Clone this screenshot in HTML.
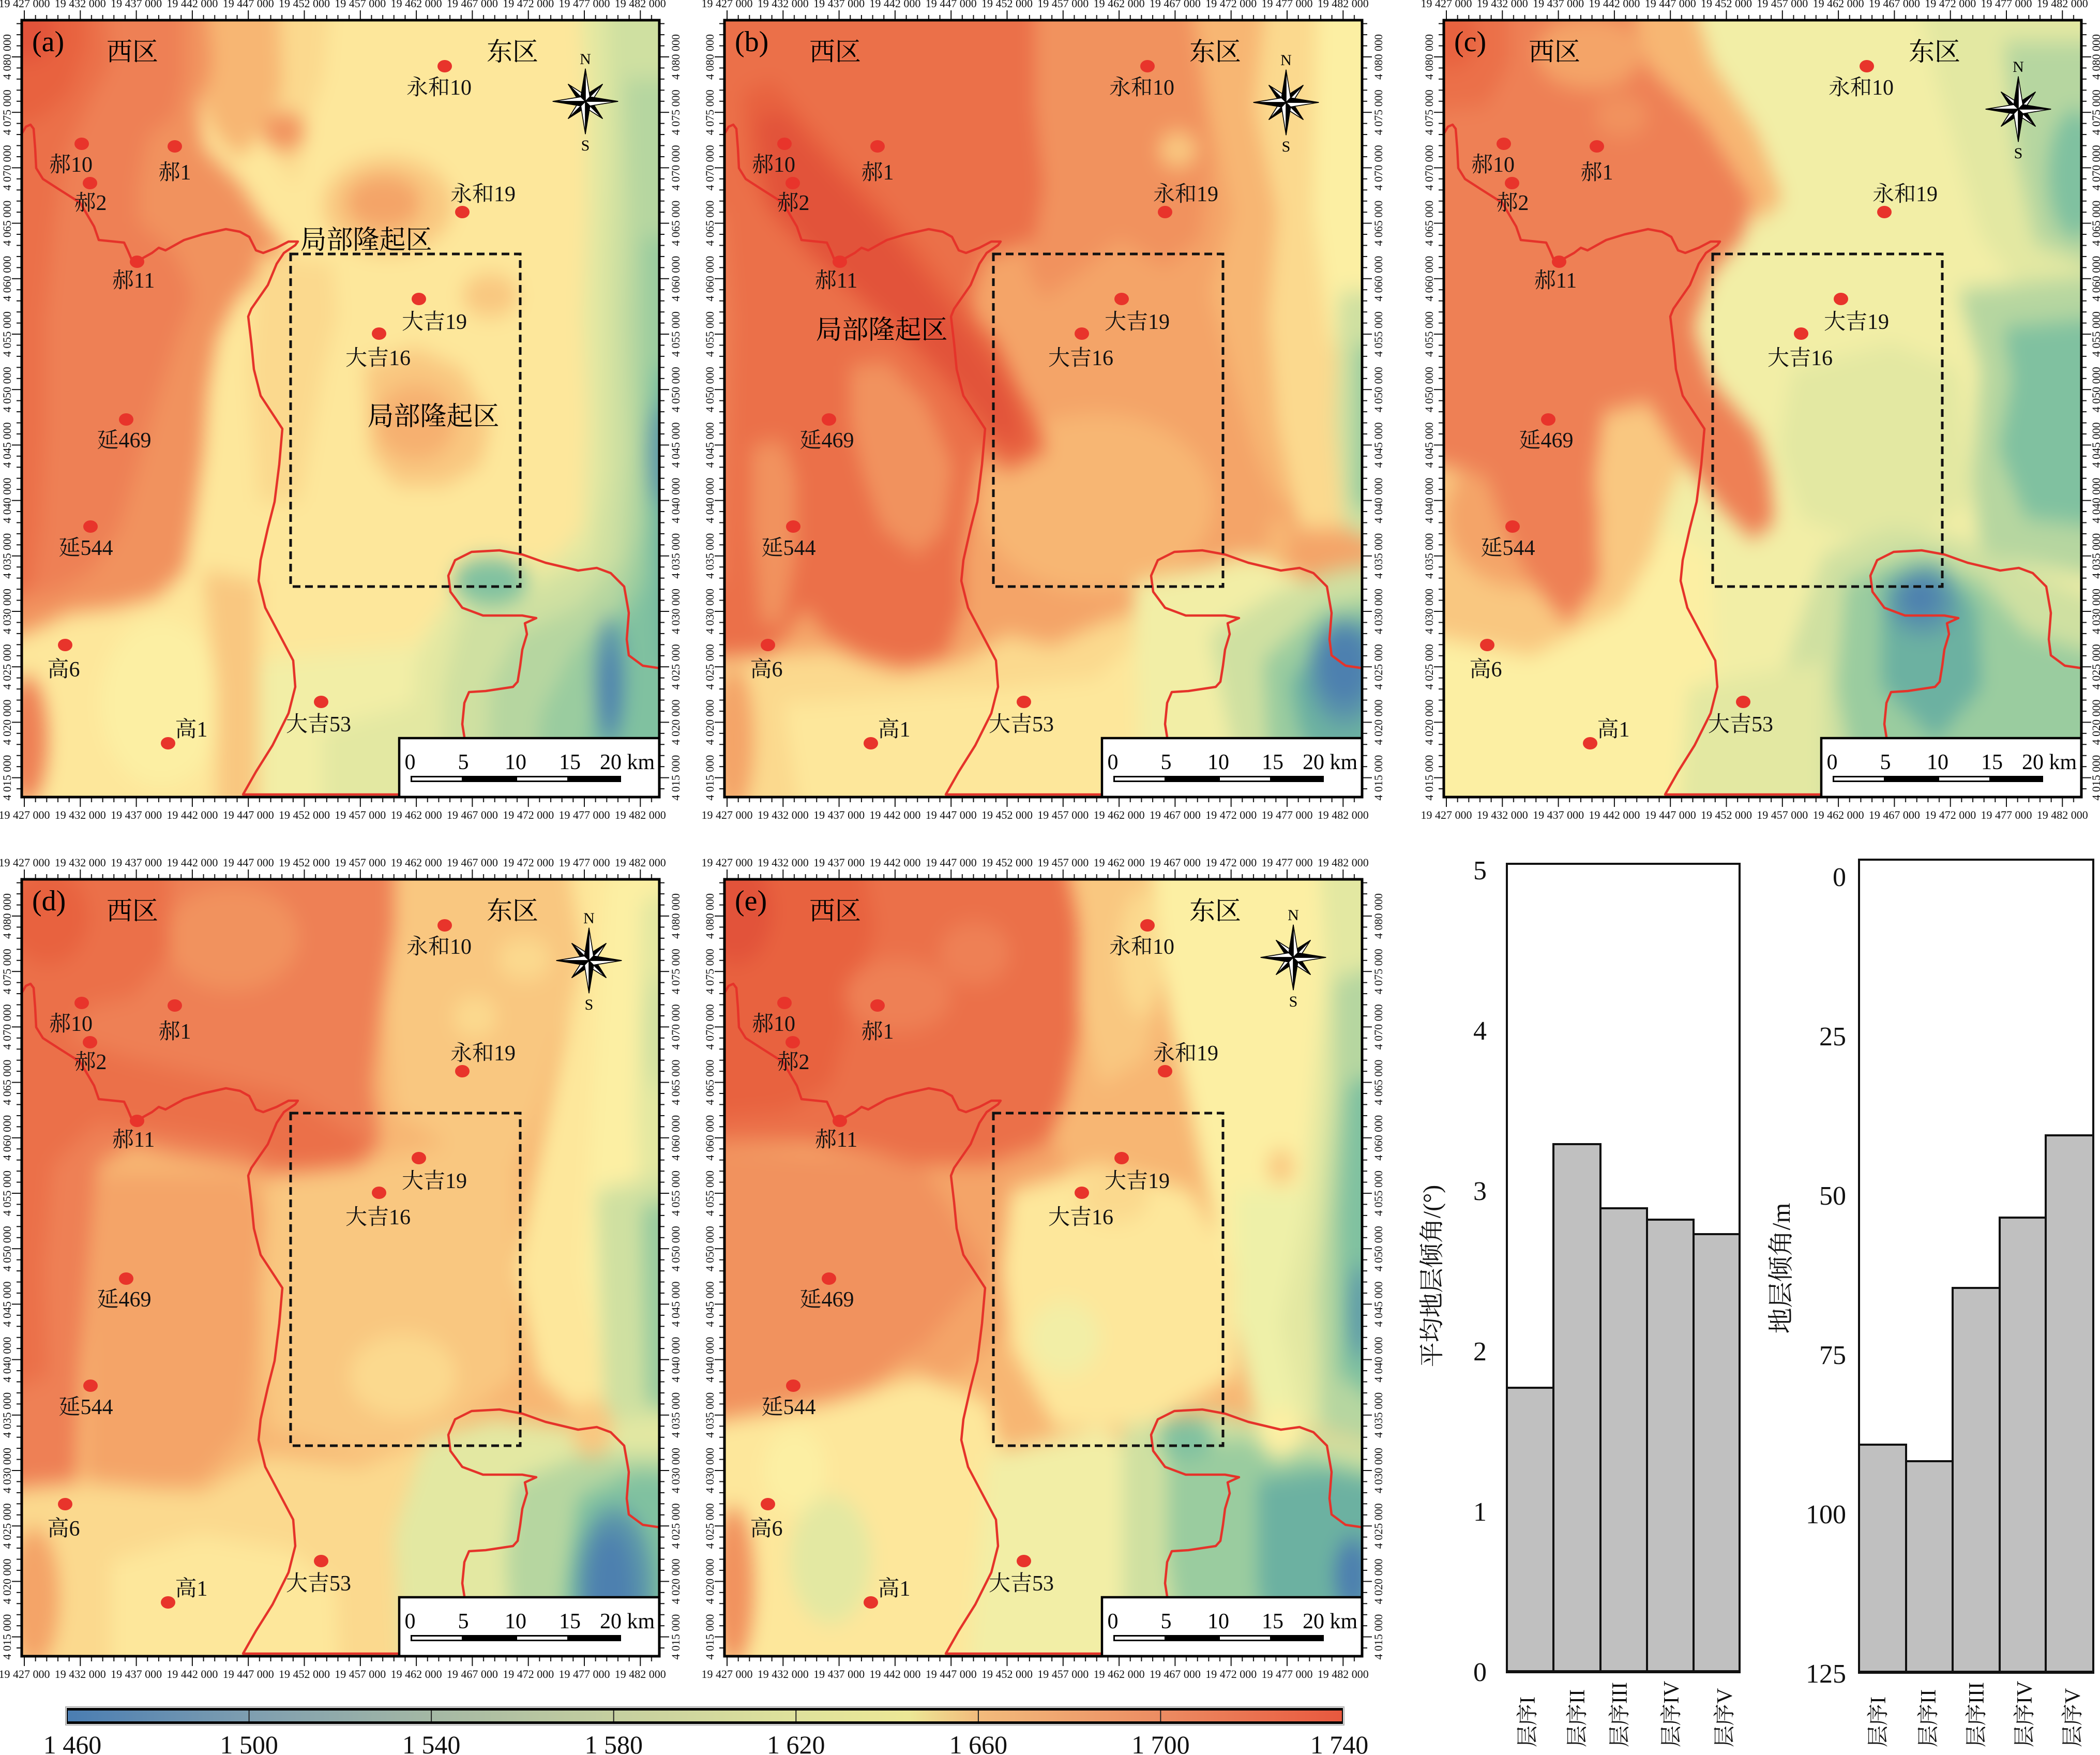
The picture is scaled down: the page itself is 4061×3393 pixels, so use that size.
<!DOCTYPE html>
<html><head><meta charset="utf-8"><style>
html,body{margin:0;padding:0;background:#fff;}
svg{display:block;}
</style></head><body>
<svg xmlns="http://www.w3.org/2000/svg" width="4061" height="3393" viewBox="0 0 4061 3393" font-family="'Liberation Serif','Noto Serif CJK SC',serif">
<defs>
<filter id="bl" x="-20%" y="-20%" width="140%" height="140%" color-interpolation-filters="sRGB"><feGaussianBlur stdDeviation="20"/></filter>
<pattern id="tT" patternUnits="userSpaceOnUse" x="6" y="-17" width="108.3" height="17"><path d="M1,0V17M22.66,9V17M44.32,9V17M65.98,9V17M87.64,9V17" stroke="#111" stroke-width="2"/></pattern>
<pattern id="tB" patternUnits="userSpaceOnUse" x="6" y="1506" width="108.3" height="17"><path d="M1,0V17M22.66,0V8M44.32,0V8M65.98,0V8M87.64,0V8" stroke="#111" stroke-width="2"/></pattern>
<pattern id="tL" patternUnits="userSpaceOnUse" x="-17" y="72" width="17" height="107.2"><path d="M0,1H17M9,22.44H17M9,43.88H17M9,65.32H17M9,86.76H17" stroke="#111" stroke-width="2"/></pattern>
<pattern id="tR" patternUnits="userSpaceOnUse" x="1237" y="72" width="17" height="107.2"><path d="M0,1H17M0,22.44H8M0,43.88H8M0,65.32H8M0,86.76H8" stroke="#111" stroke-width="2"/></pattern>
<linearGradient id="cb" x1="0" x2="1" y1="0" y2="0">
<stop offset="0" stop-color="#4a7db2"/><stop offset="0.143" stop-color="#7e9eb0"/><stop offset="0.286" stop-color="#a4b8a4"/><stop offset="0.43" stop-color="#c5cf9f"/><stop offset="0.571" stop-color="#dfe29c"/><stop offset="0.66" stop-color="#ece896"/><stop offset="0.714" stop-color="#f2bb7c"/><stop offset="0.857" stop-color="#ec8c62"/><stop offset="1" stop-color="#e8583e"/>
</linearGradient>
<g id="geo">
<polyline fill="none" stroke="#e5332a" stroke-width="4.5" stroke-linejoin="round" points="0,225 10,208 19,204 25,212 28,250 30,288 43,309 74,329 115,355 142,401 151,427 200,432 207,447 218,473 236,462 254,452 267,442 280,447 289,442 316,427 352,416 397,406 424,411 442,421 455,447 469,452 495,442 518,430 536,430 531,437 509,452 495,473 478,514 446,560 440,575 446,626 451,677 464,728 491,769 506,792 500,861 491,933 478,984 464,1046 460,1086 473,1138 500,1189 527,1240 531,1291 518,1342 487,1404 455,1455 430,1499 730,1499"/>
<polyline fill="none" stroke="#e5332a" stroke-width="4.5" stroke-linejoin="round" points="858,1388 854,1363 858,1322 867,1301 899,1299 952,1291 961,1281 966,1250 970,1219 979,1189 975,1168 997,1158 970,1153 926,1153 894,1153 854,1138 831,1107 827,1076 840,1046 872,1030 926,1027 970,1035 1015,1051 1078,1066 1114,1061 1141,1071 1167,1097 1176,1148 1172,1199 1176,1230 1203,1250 1237,1255"/>
<rect x="522" y="454" width="444" height="643" fill="none" stroke="#111" stroke-width="5" stroke-dasharray="15 9"/>
<g fill="#e8342b">
<ellipse cx="820" cy="91" rx="14" ry="12"/><ellipse cx="118" cy="241" rx="14" ry="12"/><ellipse cx="298" cy="246" rx="14" ry="12"/><ellipse cx="134" cy="317" rx="14" ry="12"/><ellipse cx="854" cy="373" rx="14" ry="12"/><ellipse cx="225" cy="469" rx="14" ry="12"/><ellipse cx="770" cy="541" rx="14" ry="12"/><ellipse cx="693" cy="608" rx="14" ry="12"/><ellipse cx="204" cy="774" rx="14" ry="12"/><ellipse cx="135" cy="981" rx="14" ry="12"/><ellipse cx="86" cy="1210" rx="14" ry="12"/><ellipse cx="285" cy="1400" rx="14" ry="12"/><ellipse cx="581" cy="1320" rx="14" ry="12"/>
</g>
<rect x="732" y="1390" width="503" height="114" fill="#fff" stroke="#000" stroke-width="4.5"/>
<rect x="754" y="1463" width="407" height="12" fill="#000"/>
<rect x="757" y="1466" width="96" height="6" fill="#fff"/>
<rect x="960" y="1466" width="97" height="6" fill="#fff"/>
</g>
<g id="rose" stroke="#000" stroke-width="1.5" stroke-linejoin="round" transform="scale(1.1)">
<path d="M30,-30L0,-11L0,0Z" fill="#000"/><path d="M30,-30L11,0L0,0Z" fill="#fff"/>
<path d="M30,30L11,0L0,0Z" fill="#000"/><path d="M30,30L0,11L0,0Z" fill="#fff"/>
<path d="M-30,30L0,11L0,0Z" fill="#000"/><path d="M-30,30L-11,0L0,0Z" fill="#fff"/>
<path d="M-30,-30L-11,0L0,0Z" fill="#000"/><path d="M-30,-30L0,-11L0,0Z" fill="#fff"/>
<path d="M0,-57L-8,-8L0,0Z" fill="#000"/><path d="M0,-57L8,-8L0,0Z" fill="#fff"/>
<path d="M57,0L8,-8L0,0Z" fill="#000"/><path d="M57,0L8,8L0,0Z" fill="#fff"/>
<path d="M0,57L8,8L0,0Z" fill="#000"/><path d="M0,57L-8,8L0,0Z" fill="#fff"/>
<path d="M-57,0L-8,8L0,0Z" fill="#000"/><path d="M-57,0L-8,-8L0,0Z" fill="#fff"/>
</g>
</defs>

<rect x="0" y="0" width="4061" height="3393" fill="#fff"/>

<!-- ================= PANEL A ================= -->
<g transform="translate(40,37)">
<svg x="0" y="0" width="1237" height="1506" viewBox="47 38 1380 1472" preserveAspectRatio="none">
<g filter="url(#bl)">
<rect x="-100" y="-100" width="1700" height="1800" fill="#fde79b"/>
<path fill="#f1925e" d="M-50,-50 L470,-50 470,130 430,200 440,280 520,350 570,420 620,470 560,520 510,570 470,640 450,740 440,860 420,980 400,1080 340,1130 250,1150 150,1160 80,1190 -50,1230Z"/>
<path fill="#ee8055" d="M-50,-50 L400,-50 400,150 380,220 320,260 300,350 300,420 380,480 420,560 380,650 340,760 300,880 260,1000 200,1080 120,1120 -50,1140Z"/>
<path fill="#eb7049" d="M-50,-50 L220,-50 240,120 180,220 140,300 120,420 100,600 100,800 90,1000 70,1120 -50,1150Z"/>
<path fill="#e8623f" d="M-50,-50 L170,-50 190,80 150,180 80,230 -50,240Z"/>
<ellipse cx="60" cy="60" rx="60" ry="55" fill="#e2533a"/>
<path fill="#f7b673" d="M440,-50 L650,-50 640,120 600,200 560,260 520,300 470,260 440,200 460,120Z"/>
<path fill="#fbd98e" d="M600,-50 L720,-50 700,150 660,250 640,350 600,300 610,150Z"/>
<ellipse cx="615" cy="250" rx="45" ry="35" fill="#f1925e"/>
<ellipse cx="840" cy="390" rx="140" ry="90" fill="#f9c780"/>
<ellipse cx="830" cy="385" rx="80" ry="50" fill="#f4a468"/>
<path fill="#f9c780" d="M790,690 L900,660 1000,700 1060,800 1040,880 960,920 860,920 800,860Z"/>
<ellipse cx="900" cy="800" rx="85" ry="70" fill="#f6b070"/>
<ellipse cx="1060" cy="560" rx="60" ry="40" fill="#f9c780"/>
<path fill="#fbd98e" d="M560,480 L720,500 730,600 700,700 680,800 650,950 560,950 540,700Z"/>
<ellipse cx="350" cy="1330" rx="130" ry="160" fill="#fcefa3"/>
<ellipse cx="60" cy="1400" rx="45" ry="120" fill="#ee8055"/>
<path fill="#f9c780" d="M440,1080 L560,1100 560,1600 470,1600 470,1300Z"/>
<path fill="#f2eea6" d="M560,1250 L900,1220 960,1150 960,1600 560,1600Z"/>
<path fill="#e3e8a2" d="M700,1380 L900,1330 960,1300 960,1600 700,1600Z"/>
<path fill="#e3e8a2" d="M1250,-50 L1600,-50 1600,1600 880,1600 900,1250 980,1120 1100,1080 1200,1060 1260,1000 1270,800 1260,600 1270,400 1270,200Z"/>
<path fill="#cfe0a1" d="M1310,-50 L1600,-50 1600,1600 950,1600 960,1300 1000,1160 1150,1120 1280,1060 1310,900 1310,700 1310,500 1320,300Z"/>
<path fill="#b6d6a0" d="M1350,150 L1600,150 1600,1600 1050,1600 1060,1300 1120,1200 1250,1150 1340,1060 1360,850 1350,600 1360,400Z"/>
<path fill="#9acc9f" d="M1390,450 L1600,450 1600,1600 1150,1600 1170,1350 1240,1230 1340,1150 1390,1000 1390,700Z"/>
<path fill="#80c1a0" d="M1410,700 L1600,700 1600,1600 1260,1600 1270,1400 1330,1200 1400,1100Z"/>
<path fill="#6cb1a1" d="M1440,700 L1600,700 1600,1300 1430,1250 1420,1000Z"/>
<ellipse cx="1060" cy="1100" rx="80" ry="45" fill="#80c1a0"/>
<ellipse cx="1318" cy="1290" rx="32" ry="120" fill="#5b95aa"/>
<ellipse cx="1318" cy="1300" rx="16" ry="75" fill="#4d80af"/>
<ellipse cx="1425" cy="860" rx="22" ry="95" fill="#5b95aa"/>
</g>
</svg>
<use href="#geo"/>
<use href="#rose" transform="translate(1092,159)"/>
<g font-size="30" text-anchor="middle"><text x="1092" y="87">N</text><text x="1092" y="254">S</text></g>
<text x="22" y="62" font-size="56">(a)</text>
<g font-size="50" text-anchor="middle"><text x="216" y="80">西区</text><text x="951" y="80">东区</text><text x="668" y="444" font-size="51">局部隆起区</text><text x="798" y="785" font-size="51">局部隆起区</text></g>
<g font-size="42" text-anchor="middle" fill="#111">
<text x="809" y="146">永和10</text><text x="97" y="295">郝10</text><text x="298" y="310">郝1</text><text x="135" y="369">郝2</text><text x="894" y="352">永和19</text><text x="218" y="519">郝11</text><text x="800" y="599">大吉19</text><text x="691" y="669">大吉16</text><text x="200" y="828">延469</text><text x="126" y="1036">延544</text><text x="83" y="1271">高6</text><text x="330" y="1387">高1</text><text x="576" y="1377">大吉53</text>
</g>
<g font-size="42" text-anchor="middle"><text x="753" y="1450">0</text><text x="856" y="1450">5</text><text x="957" y="1450">10</text><text x="1062" y="1450">15</text><text x="1120" y="1450" text-anchor="start">20 km</text></g>
<rect x="0" y="-17" width="1237" height="17" fill="url(#tT)"/><rect x="0" y="1506" width="1237" height="17" fill="url(#tB)"/><rect x="-17" y="0" width="17" height="1506" fill="url(#tL)"/><rect x="1237" y="0" width="17" height="1506" fill="url(#tR)"/>
<g font-size="22" text-anchor="middle" fill="#111">
<text y="-23"><tspan x="7">19 427 000</tspan><tspan x="115.3">19 432 000</tspan><tspan x="223.6">19 437 000</tspan><tspan x="331.9">19 442 000</tspan><tspan x="440.2">19 447 000</tspan><tspan x="548.5">19 452 000</tspan><tspan x="656.8">19 457 000</tspan><tspan x="765.1">19 462 000</tspan><tspan x="873.4">19 467 000</tspan><tspan x="981.7">19 472 000</tspan><tspan x="1090">19 477 000</tspan><tspan x="1198.3">19 482 000</tspan></text>
<text y="1546"><tspan x="7">19 427 000</tspan><tspan x="115.3">19 432 000</tspan><tspan x="223.6">19 437 000</tspan><tspan x="331.9">19 442 000</tspan><tspan x="440.2">19 447 000</tspan><tspan x="548.5">19 452 000</tspan><tspan x="656.8">19 457 000</tspan><tspan x="765.1">19 462 000</tspan><tspan x="873.4">19 467 000</tspan><tspan x="981.7">19 472 000</tspan><tspan x="1090">19 477 000</tspan><tspan x="1198.3">19 482 000</tspan></text>
<text transform="rotate(-90)" y="-19"><tspan x="-73">4 080 000</tspan><tspan x="-180.2">4 075 000</tspan><tspan x="-287.4">4 070 000</tspan><tspan x="-394.6">4 065 000</tspan><tspan x="-501.8">4 060 000</tspan><tspan x="-609">4 055 000</tspan><tspan x="-716.2">4 050 000</tspan><tspan x="-823.4">4 045 000</tspan><tspan x="-930.6">4 040 000</tspan><tspan x="-1037.8">4 035 000</tspan><tspan x="-1145">4 030 000</tspan><tspan x="-1252.2">4 025 000</tspan><tspan x="-1359.4">4 020 000</tspan><tspan x="-1466.6">4 015 000</tspan></text>
<text transform="rotate(-90)" y="1274"><tspan x="-73">4 080 000</tspan><tspan x="-180.2">4 075 000</tspan><tspan x="-287.4">4 070 000</tspan><tspan x="-394.6">4 065 000</tspan><tspan x="-501.8">4 060 000</tspan><tspan x="-609">4 055 000</tspan><tspan x="-716.2">4 050 000</tspan><tspan x="-823.4">4 045 000</tspan><tspan x="-930.6">4 040 000</tspan><tspan x="-1037.8">4 035 000</tspan><tspan x="-1145">4 030 000</tspan><tspan x="-1252.2">4 025 000</tspan><tspan x="-1359.4">4 020 000</tspan><tspan x="-1466.6">4 015 000</tspan></text>
</g>
<rect x="2" y="2" width="1233" height="1502" fill="none" stroke="#000" stroke-width="5"/>
</g>

<!-- ================= PANEL B ================= -->
<g transform="translate(1399,37)">
<svg x="0" y="0" width="1237" height="1506" viewBox="68 32 1424 1478" preserveAspectRatio="none">
<g filter="url(#bl)">
<rect x="-100" y="-100" width="1700" height="1800" fill="#f4a468"/>
<path fill="#f1925e" d="M560,-50 L1100,-50 1130,150 1150,300 1130,450 1050,500 950,450 850,520 780,560 740,500 770,350 760,200 700,80Z"/>
<ellipse cx="1080" cy="280" rx="45" ry="35" fill="#f9c780"/>
<path fill="#f7b673" d="M1100,-50 L1600,-50 1600,950 1300,950 1250,850 1200,700 1150,550 1200,400 1150,200Z"/>
<path fill="#fbd98e" d="M1280,-50 L1600,-50 1600,1000 1350,1000 1300,800 1280,600 1300,400 1250,200Z"/>
<path fill="#fcefa3" d="M1390,-50 L1600,-50 1600,700 1420,650 1380,400Z"/>
<path fill="#cfe0a1" d="M1440,550 L1600,550 1600,1050 1450,1000 1430,800Z"/>
<path fill="#9acc9f" d="M1475,650 L1600,650 1600,1000 1470,950Z"/>
<ellipse cx="900" cy="950" rx="260" ry="170" fill="#f7b673"/>
<path fill="#eb7049" d="M-50,-50 L760,-50 760,200 780,350 760,450 700,470 650,480 620,560 640,650 700,700 760,780 790,850 700,890 640,850 620,930 600,1050 600,1150 560,1240 480,1260 380,1240 300,1200 250,1150 180,1230 120,1250 -50,1260Z"/>
<path fill="#f1925e" d="M350,690 L430,680 520,760 580,880 560,1000 500,1050 420,1000 380,900 350,800Z"/>
<path fill="#f1925e" d="M130,840 L200,830 230,900 230,1050 200,1180 150,1180 130,1000Z"/>
<path fill="#ee8055" d="M-50,380 L70,400 90,600 80,900 70,1100 -50,1100Z"/>
<path fill="#e8623f" d="M110,170 L180,150 260,230 340,310 430,390 520,480 600,570 680,650 740,760 760,850 720,870 640,820 560,720 470,640 360,560 260,480 170,400 120,320Z"/>
<path fill="#e2533a" d="M140,220 L200,210 300,310 420,420 520,530 620,640 700,740 730,830 690,830 600,740 500,650 380,560 260,470 170,380Z"/>
<path fill="#fbd98e" d="M-50,1250 L300,1230 450,1270 600,1250 700,1200 800,1220 900,1180 1000,1150 1100,1100 1200,1050 1300,1050 1300,1600 -50,1600Z"/>
<path fill="#fde79b" d="M200,1330 L700,1300 900,1280 1000,1200 1200,1150 1260,1200 1260,1600 250,1600Z"/>
<ellipse cx="90" cy="1400" rx="45" ry="140" fill="#f4a468"/>
<path fill="#f2eea6" d="M980,1100 L1250,1050 1380,1100 1600,1050 1600,1600 1000,1600Z"/>
<path fill="#cfe0a1" d="M1150,1200 L1300,1120 1420,1080 1600,1050 1600,1600 1250,1600 1200,1400Z"/>
<path fill="#9acc9f" d="M1270,1250 L1400,1150 1600,1120 1600,1600 1330,1600 1280,1400Z"/>
<path fill="#6cb1a1" d="M1330,1290 L1440,1180 1600,1160 1600,1480 1400,1460 1350,1380Z"/>
<ellipse cx="1450" cy="1270" rx="80" ry="100" fill="#5b95aa"/>
<ellipse cx="1450" cy="1260" rx="55" ry="70" fill="#4d80af"/>
<ellipse cx="1305" cy="1020" rx="30" ry="45" fill="#f7b673"/>
</g>
</svg>
<use href="#geo"/>
<use href="#rose" transform="translate(1088,161)"/>
<g font-size="30" text-anchor="middle"><text x="1088" y="89">N</text><text x="1088" y="256">S</text></g>
<text x="22" y="62" font-size="56">(b)</text>
<g font-size="50" text-anchor="middle"><text x="216" y="80">西区</text><text x="951" y="80">东区</text><text x="306" y="618" font-size="51">局部隆起区</text></g>
<g font-size="42" text-anchor="middle" fill="#111">
<text x="809" y="146">永和10</text><text x="97" y="295">郝10</text><text x="298" y="310">郝1</text><text x="135" y="369">郝2</text><text x="894" y="352">永和19</text><text x="218" y="519">郝11</text><text x="800" y="599">大吉19</text><text x="691" y="669">大吉16</text><text x="200" y="828">延469</text><text x="126" y="1036">延544</text><text x="83" y="1271">高6</text><text x="330" y="1387">高1</text><text x="576" y="1377">大吉53</text>
</g>
<g font-size="42" text-anchor="middle"><text x="753" y="1450">0</text><text x="856" y="1450">5</text><text x="957" y="1450">10</text><text x="1062" y="1450">15</text><text x="1120" y="1450" text-anchor="start">20 km</text></g>
<rect x="0" y="-17" width="1237" height="17" fill="url(#tT)"/><rect x="0" y="1506" width="1237" height="17" fill="url(#tB)"/><rect x="-17" y="0" width="17" height="1506" fill="url(#tL)"/><rect x="1237" y="0" width="17" height="1506" fill="url(#tR)"/>
<g font-size="22" text-anchor="middle" fill="#111">
<text y="-23"><tspan x="7">19 427 000</tspan><tspan x="115.3">19 432 000</tspan><tspan x="223.6">19 437 000</tspan><tspan x="331.9">19 442 000</tspan><tspan x="440.2">19 447 000</tspan><tspan x="548.5">19 452 000</tspan><tspan x="656.8">19 457 000</tspan><tspan x="765.1">19 462 000</tspan><tspan x="873.4">19 467 000</tspan><tspan x="981.7">19 472 000</tspan><tspan x="1090">19 477 000</tspan><tspan x="1198.3">19 482 000</tspan></text>
<text y="1546"><tspan x="7">19 427 000</tspan><tspan x="115.3">19 432 000</tspan><tspan x="223.6">19 437 000</tspan><tspan x="331.9">19 442 000</tspan><tspan x="440.2">19 447 000</tspan><tspan x="548.5">19 452 000</tspan><tspan x="656.8">19 457 000</tspan><tspan x="765.1">19 462 000</tspan><tspan x="873.4">19 467 000</tspan><tspan x="981.7">19 472 000</tspan><tspan x="1090">19 477 000</tspan><tspan x="1198.3">19 482 000</tspan></text>
<text transform="rotate(-90)" y="-19"><tspan x="-73">4 080 000</tspan><tspan x="-180.2">4 075 000</tspan><tspan x="-287.4">4 070 000</tspan><tspan x="-394.6">4 065 000</tspan><tspan x="-501.8">4 060 000</tspan><tspan x="-609">4 055 000</tspan><tspan x="-716.2">4 050 000</tspan><tspan x="-823.4">4 045 000</tspan><tspan x="-930.6">4 040 000</tspan><tspan x="-1037.8">4 035 000</tspan><tspan x="-1145">4 030 000</tspan><tspan x="-1252.2">4 025 000</tspan><tspan x="-1359.4">4 020 000</tspan><tspan x="-1466.6">4 015 000</tspan></text>
<text transform="rotate(-90)" y="1274"><tspan x="-73">4 080 000</tspan><tspan x="-180.2">4 075 000</tspan><tspan x="-287.4">4 070 000</tspan><tspan x="-394.6">4 065 000</tspan><tspan x="-501.8">4 060 000</tspan><tspan x="-609">4 055 000</tspan><tspan x="-716.2">4 050 000</tspan><tspan x="-823.4">4 045 000</tspan><tspan x="-930.6">4 040 000</tspan><tspan x="-1037.8">4 035 000</tspan><tspan x="-1145">4 030 000</tspan><tspan x="-1252.2">4 025 000</tspan><tspan x="-1359.4">4 020 000</tspan><tspan x="-1466.6">4 015 000</tspan></text>
</g>
<rect x="2" y="2" width="1233" height="1502" fill="none" stroke="#000" stroke-width="5"/>
</g>

<!-- ================= PANEL C ================= -->
<g transform="translate(2790,37)">
<svg x="0" y="0" width="1237" height="1506" viewBox="103 37 1422 1473" preserveAspectRatio="none">
<g filter="url(#bl)">
<rect x="-100" y="-100" width="1800" height="1800" fill="#f2eea6"/>
<path fill="#e3e8a2" d="M880,700 L1100,650 1250,700 1280,950 1100,1050 900,980 850,850Z"/>
<path fill="#f9c780" d="M-50,850 L200,900 240,1000 300,1100 380,1180 450,1100 440,900 460,780 560,760 640,870 600,950 550,1100 450,1200 300,1250 -50,1250Z"/>
<ellipse cx="280" cy="980" rx="170" ry="130" fill="#f4a468"/>
<path fill="#fcefa3" d="M-50,1180 L300,1240 500,1150 600,1000 700,1050 720,1600 -50,1600Z"/>
<path fill="#f7b673" d="M480,-50 L640,-50 700,120 800,250 860,380 800,420 700,300 580,200Z"/>
<path fill="#ee8055" d="M-50,-50 L500,-50 560,130 680,230 790,380 770,450 700,520 660,620 700,720 800,820 830,900 840,990 790,1020 720,960 640,870 560,760 460,780 440,900 450,1100 380,1180 300,1100 240,1000 200,900 -50,850Z"/>
<ellipse cx="430" cy="100" rx="120" ry="70" fill="#f4a468"/>
<ellipse cx="500" cy="220" rx="60" ry="40" fill="#f1925e"/>
<path fill="#eb7049" d="M-50,-50 L250,-50 250,120 200,200 -50,220Z"/>
<ellipse cx="120" cy="70" rx="60" ry="60" fill="#e8623f"/>
<path fill="#e3e8a2" d="M1150,-50 L1600,-50 1600,600 1400,560 1300,450 1250,300 1200,150Z"/>
<path fill="#b6d6a0" d="M1350,80 L1600,80 1600,520 1420,460 1380,300Z"/>
<ellipse cx="1510" cy="330" rx="60" ry="120" fill="#80c1a0"/>
<path fill="#b6d6a0" d="M1250,550 L1600,520 1600,1100 1300,1050 1280,900 1300,700Z"/>
<path fill="#80c1a0" d="M1350,620 L1600,600 1600,1000 1400,980 1340,850 1370,720Z"/>
<path fill="#cfe0a1" d="M950,1050 L1100,1000 1250,1020 1400,1080 1600,1150 1600,1600 880,1600 850,1300Z"/>
<path fill="#9acc9f" d="M1000,1100 L1150,1050 1300,1100 1400,1200 1600,1250 1600,1600 1050,1600 980,1300Z"/>
<path fill="#6cb1a1" d="M1080,1100 L1200,1060 1290,1150 1300,1300 1200,1400 1080,1300Z"/>
<ellipse cx="1170" cy="1140" rx="75" ry="60" fill="#5b95aa"/>
<ellipse cx="1165" cy="1130" rx="40" ry="35" fill="#4d80af"/>
<path fill="#e3e8a2" d="M650,1300 L950,1250 950,1600 620,1600Z"/>
</g>
</svg>
<use href="#geo"/>
<use href="#rose" transform="translate(1113,174)"/>
<g font-size="30" text-anchor="middle"><text x="1113" y="102">N</text><text x="1113" y="269">S</text></g>
<text x="22" y="62" font-size="56">(c)</text>
<g font-size="50" text-anchor="middle"><text x="216" y="80">西区</text><text x="951" y="80">东区</text></g>
<g font-size="42" text-anchor="middle" fill="#111">
<text x="809" y="146">永和10</text><text x="97" y="295">郝10</text><text x="298" y="310">郝1</text><text x="135" y="369">郝2</text><text x="894" y="352">永和19</text><text x="218" y="519">郝11</text><text x="800" y="599">大吉19</text><text x="691" y="669">大吉16</text><text x="200" y="828">延469</text><text x="126" y="1036">延544</text><text x="83" y="1271">高6</text><text x="330" y="1387">高1</text><text x="576" y="1377">大吉53</text>
</g>
<g font-size="42" text-anchor="middle"><text x="753" y="1450">0</text><text x="856" y="1450">5</text><text x="957" y="1450">10</text><text x="1062" y="1450">15</text><text x="1120" y="1450" text-anchor="start">20 km</text></g>
<rect x="0" y="-17" width="1237" height="17" fill="url(#tT)"/><rect x="0" y="1506" width="1237" height="17" fill="url(#tB)"/><rect x="-17" y="0" width="17" height="1506" fill="url(#tL)"/><rect x="1237" y="0" width="17" height="1506" fill="url(#tR)"/>
<g font-size="22" text-anchor="middle" fill="#111">
<text y="-23"><tspan x="7">19 427 000</tspan><tspan x="115.3">19 432 000</tspan><tspan x="223.6">19 437 000</tspan><tspan x="331.9">19 442 000</tspan><tspan x="440.2">19 447 000</tspan><tspan x="548.5">19 452 000</tspan><tspan x="656.8">19 457 000</tspan><tspan x="765.1">19 462 000</tspan><tspan x="873.4">19 467 000</tspan><tspan x="981.7">19 472 000</tspan><tspan x="1090">19 477 000</tspan><tspan x="1198.3">19 482 000</tspan></text>
<text y="1546"><tspan x="7">19 427 000</tspan><tspan x="115.3">19 432 000</tspan><tspan x="223.6">19 437 000</tspan><tspan x="331.9">19 442 000</tspan><tspan x="440.2">19 447 000</tspan><tspan x="548.5">19 452 000</tspan><tspan x="656.8">19 457 000</tspan><tspan x="765.1">19 462 000</tspan><tspan x="873.4">19 467 000</tspan><tspan x="981.7">19 472 000</tspan><tspan x="1090">19 477 000</tspan><tspan x="1198.3">19 482 000</tspan></text>
<text transform="rotate(-90)" y="-19"><tspan x="-73">4 080 000</tspan><tspan x="-180.2">4 075 000</tspan><tspan x="-287.4">4 070 000</tspan><tspan x="-394.6">4 065 000</tspan><tspan x="-501.8">4 060 000</tspan><tspan x="-609">4 055 000</tspan><tspan x="-716.2">4 050 000</tspan><tspan x="-823.4">4 045 000</tspan><tspan x="-930.6">4 040 000</tspan><tspan x="-1037.8">4 035 000</tspan><tspan x="-1145">4 030 000</tspan><tspan x="-1252.2">4 025 000</tspan><tspan x="-1359.4">4 020 000</tspan><tspan x="-1466.6">4 015 000</tspan></text>
<text transform="rotate(-90)" y="1271"><tspan x="-73">4 080 000</tspan><tspan x="-180.2">4 075 000</tspan><tspan x="-287.4">4 070 000</tspan><tspan x="-394.6">4 065 000</tspan><tspan x="-501.8">4 060 000</tspan><tspan x="-609">4 055 000</tspan><tspan x="-716.2">4 050 000</tspan><tspan x="-823.4">4 045 000</tspan><tspan x="-930.6">4 040 000</tspan><tspan x="-1037.8">4 035 000</tspan><tspan x="-1145">4 030 000</tspan><tspan x="-1252.2">4 025 000</tspan><tspan x="-1359.4">4 020 000</tspan><tspan x="-1466.6">4 015 000</tspan></text>
</g>
<rect x="2" y="2" width="1233" height="1502" fill="none" stroke="#000" stroke-width="5"/>
</g>

<!-- ================= PANEL D ================= -->
<g transform="translate(40,1698)">
<svg x="0" y="0" width="1237" height="1506" viewBox="50 57 1422 1476" preserveAspectRatio="none">
<g filter="url(#bl)">
<rect x="-100" y="-100" width="1800" height="1800" fill="#f7b673"/>
<path fill="#ee8055" d="M-50,-50 L900,-50 880,150 850,300 830,450 850,560 780,620 650,640 550,600 400,580 300,560 220,600 200,800 180,1000 170,1200 -50,1220Z"/>
<ellipse cx="520" cy="170" rx="150" ry="100" fill="#f1925e"/>
<path fill="#eb7049" d="M-50,-50 L380,-50 380,200 300,280 200,300 150,360 300,400 450,430 550,450 650,470 750,520 830,560 760,620 640,600 540,560 400,540 220,520 120,600 100,800 110,1000 -50,1050Z"/>
<ellipse cx="110" cy="130" rx="90" ry="90" fill="#e8623f"/>
<path fill="#f4a468" d="M220,620 L550,620 600,700 580,900 550,1100 450,1200 300,1220 200,1200 200,900Z"/>
<path fill="#f9c780" d="M600,620 L800,600 1000,560 1150,600 1150,1000 1000,1100 800,1150 600,1100 580,850Z"/>
<path fill="#f9c780" d="M880,-50 L1380,-50 1350,200 1250,350 1200,500 1150,600 1000,560 880,500 860,300 880,150Z"/>
<ellipse cx="1170" cy="210" rx="60" ry="40" fill="#fbd98e"/>
<ellipse cx="1060" cy="320" rx="50" ry="40" fill="#fbd98e"/>
<ellipse cx="900" cy="1000" rx="120" ry="80" fill="#fbd98e"/>
<path fill="#fde79b" d="M1250,-50 L1600,-50 1600,1100 1300,1080 1200,1000 1150,800 1200,600 1250,400 1300,200Z"/>
<path fill="#fcefa3" d="M1350,60 L1600,-50 1600,1000 1350,1000 1300,800 1320,500Z"/>
<path fill="#e3e8a2" d="M1430,100 L1600,50 1600,1000 1440,900 1420,500Z"/>
<ellipse cx="1465" cy="350" rx="25" ry="110" fill="#cfe0a1"/>
<path fill="#cfe0a1" d="M1330,650 L1600,600 1600,1100 1350,1080Z"/>
<path fill="#9acc9f" d="M1430,680 L1600,650 1600,1100 1440,1050Z"/>
<path fill="#fbd98e" d="M-50,1220 L200,1200 450,1220 600,1150 800,1170 950,1120 1000,1600 -50,1600Z"/>
<path fill="#fde79b" d="M250,1350 L450,1300 650,1330 750,1400 760,1600 250,1600Z"/>
<ellipse cx="80" cy="1420" rx="55" ry="130" fill="#f4a468"/>
<path fill="#e3e8a2" d="M950,1120 L1100,1080 1300,1100 1600,1050 1600,1600 900,1600 880,1300Z"/>
<path fill="#b6d6a0" d="M1150,1200 L1300,1150 1600,1150 1600,1600 1150,1600 1130,1350Z"/>
<path fill="#80c1a0" d="M1290,1230 L1420,1180 1600,1200 1600,1600 1250,1600 1260,1400Z"/>
<ellipse cx="1370" cy="1400" rx="85" ry="150" fill="#5b95aa"/>
<ellipse cx="1362" cy="1410" rx="50" ry="115" fill="#4d80af"/>
<ellipse cx="1320" cy="1100" rx="45" ry="55" fill="#f9c780"/>
</g>
</svg>
<use href="#geo"/>
<use href="#rose" transform="translate(1099,159)"/>
<g font-size="30" text-anchor="middle"><text x="1099" y="87">N</text><text x="1099" y="254">S</text></g>
<text x="22" y="62" font-size="56">(d)</text>
<g font-size="50" text-anchor="middle"><text x="216" y="80">西区</text><text x="951" y="80">东区</text></g>
<g font-size="42" text-anchor="middle" fill="#111">
<text x="809" y="146">永和10</text><text x="97" y="295">郝10</text><text x="298" y="310">郝1</text><text x="135" y="369">郝2</text><text x="894" y="352">永和19</text><text x="218" y="519">郝11</text><text x="800" y="599">大吉19</text><text x="691" y="669">大吉16</text><text x="200" y="828">延469</text><text x="126" y="1036">延544</text><text x="83" y="1271">高6</text><text x="330" y="1387">高1</text><text x="576" y="1377">大吉53</text>
</g>
<g font-size="42" text-anchor="middle"><text x="753" y="1450">0</text><text x="856" y="1450">5</text><text x="957" y="1450">10</text><text x="1062" y="1450">15</text><text x="1120" y="1450" text-anchor="start">20 km</text></g>
<rect x="0" y="-17" width="1237" height="17" fill="url(#tT)"/><rect x="0" y="1506" width="1237" height="17" fill="url(#tB)"/><rect x="-17" y="0" width="17" height="1506" fill="url(#tL)"/><rect x="1237" y="0" width="17" height="1506" fill="url(#tR)"/>
<g font-size="22" text-anchor="middle" fill="#111">
<text y="-23"><tspan x="7">19 427 000</tspan><tspan x="115.3">19 432 000</tspan><tspan x="223.6">19 437 000</tspan><tspan x="331.9">19 442 000</tspan><tspan x="440.2">19 447 000</tspan><tspan x="548.5">19 452 000</tspan><tspan x="656.8">19 457 000</tspan><tspan x="765.1">19 462 000</tspan><tspan x="873.4">19 467 000</tspan><tspan x="981.7">19 472 000</tspan><tspan x="1090">19 477 000</tspan><tspan x="1198.3">19 482 000</tspan></text>
<text y="1546"><tspan x="7">19 427 000</tspan><tspan x="115.3">19 432 000</tspan><tspan x="223.6">19 437 000</tspan><tspan x="331.9">19 442 000</tspan><tspan x="440.2">19 447 000</tspan><tspan x="548.5">19 452 000</tspan><tspan x="656.8">19 457 000</tspan><tspan x="765.1">19 462 000</tspan><tspan x="873.4">19 467 000</tspan><tspan x="981.7">19 472 000</tspan><tspan x="1090">19 477 000</tspan><tspan x="1198.3">19 482 000</tspan></text>
<text transform="rotate(-90)" y="-19"><tspan x="-73">4 080 000</tspan><tspan x="-180.2">4 075 000</tspan><tspan x="-287.4">4 070 000</tspan><tspan x="-394.6">4 065 000</tspan><tspan x="-501.8">4 060 000</tspan><tspan x="-609">4 055 000</tspan><tspan x="-716.2">4 050 000</tspan><tspan x="-823.4">4 045 000</tspan><tspan x="-930.6">4 040 000</tspan><tspan x="-1037.8">4 035 000</tspan><tspan x="-1145">4 030 000</tspan><tspan x="-1252.2">4 025 000</tspan><tspan x="-1359.4">4 020 000</tspan><tspan x="-1466.6">4 015 000</tspan></text>
<text transform="rotate(-90)" y="1274"><tspan x="-73">4 080 000</tspan><tspan x="-180.2">4 075 000</tspan><tspan x="-287.4">4 070 000</tspan><tspan x="-394.6">4 065 000</tspan><tspan x="-501.8">4 060 000</tspan><tspan x="-609">4 055 000</tspan><tspan x="-716.2">4 050 000</tspan><tspan x="-823.4">4 045 000</tspan><tspan x="-930.6">4 040 000</tspan><tspan x="-1037.8">4 035 000</tspan><tspan x="-1145">4 030 000</tspan><tspan x="-1252.2">4 025 000</tspan><tspan x="-1359.4">4 020 000</tspan><tspan x="-1466.6">4 015 000</tspan></text>
</g>
<rect x="2" y="2" width="1233" height="1502" fill="none" stroke="#000" stroke-width="5"/>
</g>

<!-- ================= PANEL E ================= -->
<g transform="translate(1399,1698)">
<svg x="0" y="0" width="1237" height="1506" viewBox="62 58 1421 1477" preserveAspectRatio="none">
<g filter="url(#bl)">
<rect x="-100" y="-100" width="1800" height="1800" fill="#f7b673"/>
<path fill="#f1925e" d="M-50,560 L650,600 700,700 650,850 500,950 350,1050 150,1100 -50,1150Z"/>
<path fill="#f4a468" d="M500,600 L800,560 850,650 800,800 650,950 500,1050 400,1100 500,950 650,800Z"/>
<path fill="#eb7049" d="M-50,-50 L800,-50 850,150 850,350 820,480 780,560 650,600 500,600 400,580 250,560 150,560 -50,560Z"/>
<path fill="#e8623f" d="M-50,-50 L350,-50 400,150 350,300 300,450 200,500 -50,520Z"/>
<ellipse cx="90" cy="120" rx="80" ry="100" fill="#e2533a"/>
<ellipse cx="450" cy="280" rx="120" ry="70" fill="#ee8055"/>
<ellipse cx="620" cy="200" rx="80" ry="60" fill="#ee8055"/>
<path fill="#f9c780" d="M800,-50 L1000,-50 1050,200 1000,400 900,450 850,300 850,100Z"/>
<ellipse cx="990" cy="200" rx="50" ry="120" fill="#fbd98e"/>
<path fill="#fcefa3" d="M1000,-50 L1600,-50 1600,1100 1250,1100 1200,900 1150,700 1100,500 1050,300 1020,100Z"/>
<path fill="#fde79b" d="M700,650 L900,600 1100,650 1200,800 1200,1000 1000,1100 800,1100 700,950 680,800Z"/>
<ellipse cx="930" cy="660" rx="80" ry="50" fill="#fbd98e"/>
<ellipse cx="820" cy="930" rx="80" ry="70" fill="#f2eea6"/>
<path fill="#eef0a8" d="M1200,650 L1400,650 1400,1100 1250,1100 1200,900Z"/>
<path fill="#e3e8a2" d="M1380,-50 L1600,-50 1600,1150 1350,1100 1300,900 1350,700 1380,400 1400,200Z"/>
<path fill="#b6d6a0" d="M1420,250 L1600,200 1600,1150 1390,1100 1380,850 1400,650 1420,450Z"/>
<path fill="#80c1a0" d="M1450,450 L1600,400 1600,1100 1430,1000 1430,700Z"/>
<ellipse cx="1475" cy="880" rx="20" ry="90" fill="#5b95aa"/>
<ellipse cx="1300" cy="605" rx="30" ry="30" fill="#f9c780"/>
<path fill="#fde79b" d="M-50,1100 L300,1050 500,1000 650,1050 700,1200 700,1600 -50,1600Z"/>
<ellipse cx="300" cy="1350" rx="90" ry="120" fill="#e3e8a2"/>
<ellipse cx="220" cy="1180" rx="70" ry="80" fill="#fcefa3"/>
<ellipse cx="85" cy="1400" rx="45" ry="150" fill="#f1925e"/>
<path fill="#f2eea6" d="M650,1150 L900,1100 1000,1150 1000,1600 600,1600Z"/>
<path fill="#cfe0a1" d="M950,1100 L1150,1070 1300,1100 1600,1150 1600,1600 950,1600Z"/>
<path fill="#9acc9f" d="M1050,1150 L1200,1120 1350,1150 1600,1200 1600,1600 1100,1600 1050,1350Z"/>
<path fill="#6cb1a1" d="M1250,1200 L1400,1180 1600,1220 1600,1600 1300,1600 1250,1400Z"/>
<ellipse cx="1460" cy="1380" rx="40" ry="70" fill="#4d80af"/>
<ellipse cx="1090" cy="1120" rx="60" ry="40" fill="#80c1a0"/>
<ellipse cx="1300" cy="1110" rx="50" ry="50" fill="#fcefa3"/>
</g>
</svg>
<use href="#geo"/>
<use href="#rose" transform="translate(1102,153)"/>
<g font-size="30" text-anchor="middle"><text x="1102" y="81">N</text><text x="1102" y="248">S</text></g>
<text x="22" y="62" font-size="56">(e)</text>
<g font-size="50" text-anchor="middle"><text x="216" y="80">西区</text><text x="951" y="80">东区</text></g>
<g font-size="42" text-anchor="middle" fill="#111">
<text x="809" y="146">永和10</text><text x="97" y="295">郝10</text><text x="298" y="310">郝1</text><text x="135" y="369">郝2</text><text x="894" y="352">永和19</text><text x="218" y="519">郝11</text><text x="800" y="599">大吉19</text><text x="691" y="669">大吉16</text><text x="200" y="828">延469</text><text x="126" y="1036">延544</text><text x="83" y="1271">高6</text><text x="330" y="1387">高1</text><text x="576" y="1377">大吉53</text>
</g>
<g font-size="42" text-anchor="middle"><text x="753" y="1450">0</text><text x="856" y="1450">5</text><text x="957" y="1450">10</text><text x="1062" y="1450">15</text><text x="1120" y="1450" text-anchor="start">20 km</text></g>
<rect x="0" y="-17" width="1237" height="17" fill="url(#tT)"/><rect x="0" y="1506" width="1237" height="17" fill="url(#tB)"/><rect x="-17" y="0" width="17" height="1506" fill="url(#tL)"/><rect x="1237" y="0" width="17" height="1506" fill="url(#tR)"/>
<g font-size="22" text-anchor="middle" fill="#111">
<text y="-23"><tspan x="7">19 427 000</tspan><tspan x="115.3">19 432 000</tspan><tspan x="223.6">19 437 000</tspan><tspan x="331.9">19 442 000</tspan><tspan x="440.2">19 447 000</tspan><tspan x="548.5">19 452 000</tspan><tspan x="656.8">19 457 000</tspan><tspan x="765.1">19 462 000</tspan><tspan x="873.4">19 467 000</tspan><tspan x="981.7">19 472 000</tspan><tspan x="1090">19 477 000</tspan><tspan x="1198.3">19 482 000</tspan></text>
<text y="1546"><tspan x="7">19 427 000</tspan><tspan x="115.3">19 432 000</tspan><tspan x="223.6">19 437 000</tspan><tspan x="331.9">19 442 000</tspan><tspan x="440.2">19 447 000</tspan><tspan x="548.5">19 452 000</tspan><tspan x="656.8">19 457 000</tspan><tspan x="765.1">19 462 000</tspan><tspan x="873.4">19 467 000</tspan><tspan x="981.7">19 472 000</tspan><tspan x="1090">19 477 000</tspan><tspan x="1198.3">19 482 000</tspan></text>
<text transform="rotate(-90)" y="-19"><tspan x="-73">4 080 000</tspan><tspan x="-180.2">4 075 000</tspan><tspan x="-287.4">4 070 000</tspan><tspan x="-394.6">4 065 000</tspan><tspan x="-501.8">4 060 000</tspan><tspan x="-609">4 055 000</tspan><tspan x="-716.2">4 050 000</tspan><tspan x="-823.4">4 045 000</tspan><tspan x="-930.6">4 040 000</tspan><tspan x="-1037.8">4 035 000</tspan><tspan x="-1145">4 030 000</tspan><tspan x="-1252.2">4 025 000</tspan><tspan x="-1359.4">4 020 000</tspan><tspan x="-1466.6">4 015 000</tspan></text>
<text transform="rotate(-90)" y="1274"><tspan x="-73">4 080 000</tspan><tspan x="-180.2">4 075 000</tspan><tspan x="-287.4">4 070 000</tspan><tspan x="-394.6">4 065 000</tspan><tspan x="-501.8">4 060 000</tspan><tspan x="-609">4 055 000</tspan><tspan x="-716.2">4 050 000</tspan><tspan x="-823.4">4 045 000</tspan><tspan x="-930.6">4 040 000</tspan><tspan x="-1037.8">4 035 000</tspan><tspan x="-1145">4 030 000</tspan><tspan x="-1252.2">4 025 000</tspan><tspan x="-1359.4">4 020 000</tspan><tspan x="-1466.6">4 015 000</tspan></text>
</g>
<rect x="2" y="2" width="1233" height="1502" fill="none" stroke="#000" stroke-width="5"/>
</g>

<!-- ================= BAR CHART 1 ================= -->
<g stroke="#111" stroke-width="4">
<rect x="2914" y="1670" width="450" height="1562" fill="#fff"/>
<rect x="2914" y="2683" width="90" height="549" fill="#c0c0c0"/>
<rect x="3004" y="2212" width="91" height="1020" fill="#c0c0c0"/>
<rect x="3095" y="2336" width="90" height="896" fill="#c0c0c0"/>
<rect x="3185" y="2358" width="90" height="874" fill="#c0c0c0"/>
<rect x="3275" y="2386" width="89" height="846" fill="#c0c0c0"/>
<line x1="2912" y1="3232" x2="3366" y2="3232" stroke-width="6"/>
</g>
<g font-size="52" text-anchor="middle" fill="#111">
<text x="2862" y="1700">5</text><text x="2862" y="2010">4</text><text x="2862" y="2320">3</text><text x="2862" y="2630">2</text><text x="2862" y="2940">1</text><text x="2862" y="3250">0</text>
</g>
<text transform="rotate(-90)" x="-2467" y="2785" text-anchor="middle" font-size="48" fill="#111">平均地层倾角/(°)</text>
<g font-size="42" fill="#111" transform="rotate(-90)">
<text x="-3378" y="2968">层序I</text><text x="-3378" y="3064">层序II</text><text x="-3378" y="3146">层序III</text><text x="-3378" y="3246">层序IV</text><text x="-3378" y="3349">层序V</text>
</g>

<!-- ================= BAR CHART 2 ================= -->
<g stroke="#111" stroke-width="4">
<rect x="3595" y="1662" width="453" height="1571" fill="#fff"/>
<rect x="3595" y="2793" width="91" height="440" fill="#c0c0c0"/>
<rect x="3686" y="2825" width="90" height="408" fill="#c0c0c0"/>
<rect x="3776" y="2490" width="91" height="743" fill="#c0c0c0"/>
<rect x="3867" y="2354" width="89" height="879" fill="#c0c0c0"/>
<rect x="3956" y="2195" width="92" height="1038" fill="#c0c0c0"/>
<line x1="3593" y1="3233" x2="4050" y2="3233" stroke-width="6"/>
</g>
<g font-size="52" text-anchor="end" fill="#111">
<text x="3570" y="1713">0</text><text x="3570" y="2021">25</text><text x="3570" y="2329">50</text><text x="3570" y="2637">75</text><text x="3570" y="2945">100</text><text x="3570" y="3253">125</text>
</g>
<text transform="rotate(-90)" x="-2452" y="3461" text-anchor="middle" font-size="50" fill="#111">地层倾角/m</text>
<g font-size="42" fill="#111" transform="rotate(-90)">
<text x="-3378" y="3646">层序I</text><text x="-3378" y="3743">层序II</text><text x="-3378" y="3836">层序III</text><text x="-3378" y="3929">层序IV</text><text x="-3378" y="4022">层序V</text>
</g>

<!-- ================= COLORBAR ================= -->
<rect x="127" y="3300" width="2472" height="35" fill="none" stroke="#b0b0b0" stroke-width="2"/>
<rect x="129" y="3302" width="2468" height="31" fill="#000"/>
<rect x="131" y="3307" width="2464" height="21" fill="url(#cb)"/>
<g stroke="#222" stroke-width="2">
<line x1="481.6" y1="3307" x2="481.6" y2="3328"/><line x1="834.1" y1="3307" x2="834.1" y2="3328"/><line x1="1186.7" y1="3307" x2="1186.7" y2="3328"/><line x1="1539.3" y1="3307" x2="1539.3" y2="3328"/><line x1="1891.9" y1="3307" x2="1891.9" y2="3328"/><line x1="2244.4" y1="3307" x2="2244.4" y2="3328"/>
</g>
<g font-size="50" text-anchor="middle" fill="#111">
<text x="140" y="3390">1 460</text><text x="481.6" y="3390">1 500</text><text x="834.1" y="3390">1 540</text><text x="1186.7" y="3390">1 580</text><text x="1539.3" y="3390">1 620</text><text x="1891.9" y="3390">1 660</text><text x="2244.4" y="3390">1 700</text><text x="2590" y="3390">1 740</text>
</g>
</svg>
</body></html>
